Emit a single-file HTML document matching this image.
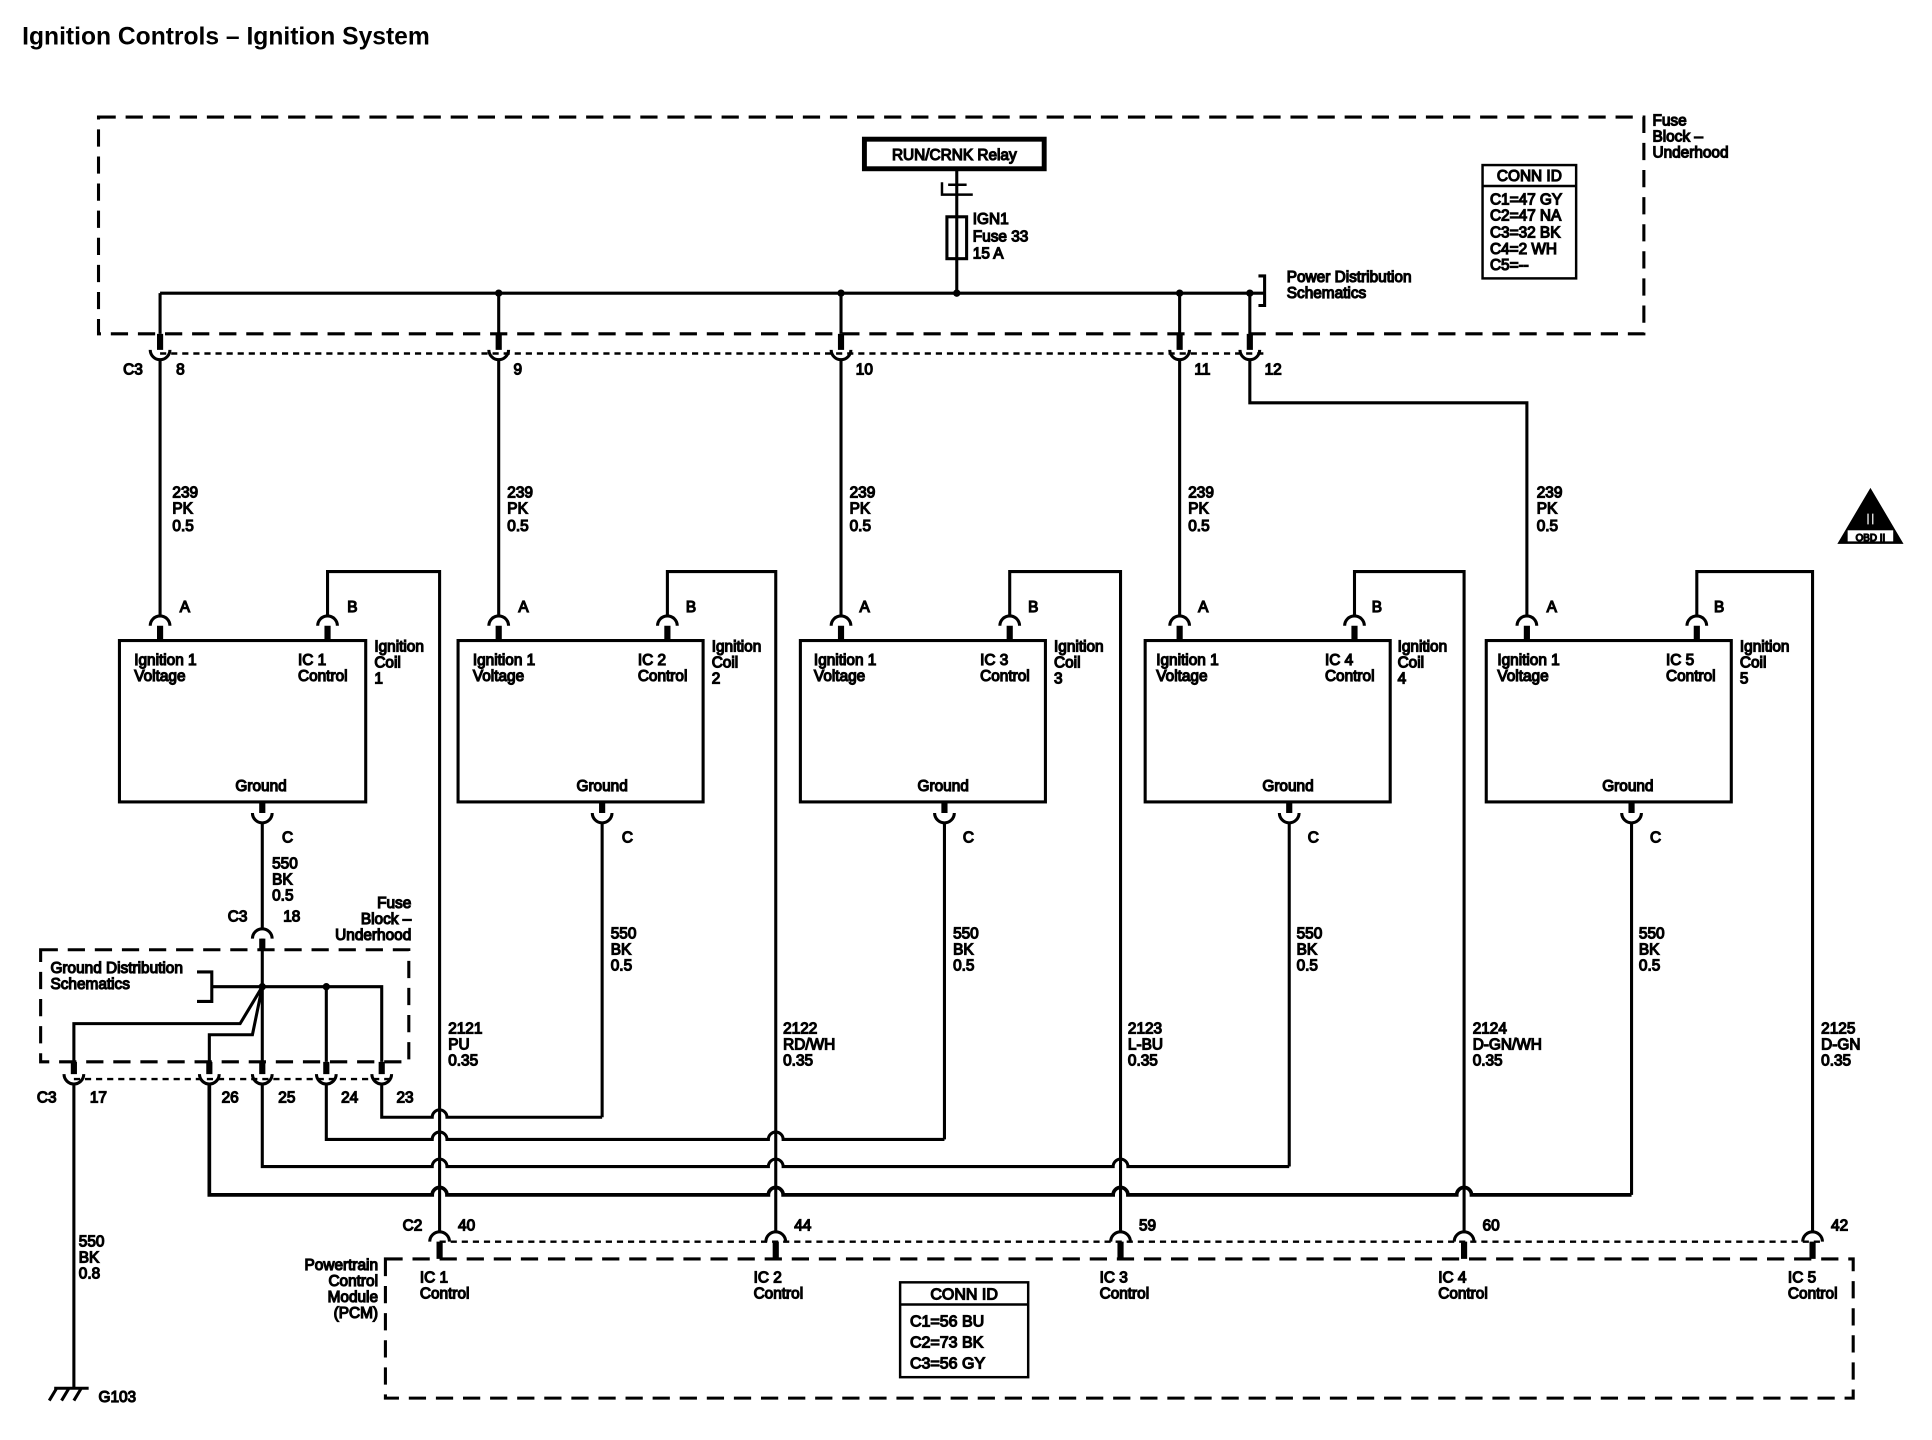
<!DOCTYPE html>
<html><head><meta charset="utf-8"><style>
html,body{margin:0;padding:0;background:#fff;}
svg{display:block;}
text{font-family:"Liberation Sans",sans-serif;font-size:12.5px;fill:#000;}
.r{text-anchor:end}.m{text-anchor:middle}
</style></head><body>
<svg width="1932" height="1440" viewBox="0 0 1569 1169" preserveAspectRatio="none" xmlns="http://www.w3.org/2000/svg">
<text x="18" y="36" style="font-size:20px;font-weight:bold">Ignition Controls – Ignition System</text>
<g fill="none" stroke="#000">
<rect x="80" y="95" width="1255" height="176" stroke-width="2.5" stroke-dasharray="14 8"/>
<rect x="33" y="771" width="299" height="91" stroke-width="2.5" stroke-dasharray="14 8"/>
<rect x="313" y="1022" width="1192" height="113" stroke-width="2.5" stroke-dasharray="14 8"/>
<line x1="130" y1="287" x2="1030" y2="287" stroke-width="2" stroke-dasharray="5 4"/>
<line x1="60" y1="876" x2="320" y2="876" stroke-width="2" stroke-dasharray="5 4"/>
<line x1="357" y1="1008" x2="1480" y2="1008" stroke-width="2" stroke-dasharray="5 4"/>
<rect x="702" y="113" width="146" height="24" stroke-width="4"/>
<line x1="777" y1="138" x2="777" y2="238" stroke-width="2.5"/>
<path d="M765 148 V158 H790 M770 150 H785" stroke-width="2"/>
<rect x="769" y="176" width="16" height="34" stroke-width="2.5"/>
<path d="M130 238 H1015 M1015 238 H1027 M1022 224 H1027 V248 H1022" stroke-width="2.5"/>
<g stroke-width="2.5">
<path d="M130 238 V271 M405 238 V271 M683 238 V271 M958 238 V271 M1015 238 V271"/>
</g>
<g stroke-width="5"><path d="M130 271 V284 M405 271 V284 M683 271 V284 M958 271 V284 M1015 271 V284"/></g>
<g stroke-width="2.5">
<path d="M122 284 A8 8 0 0 0 138 284 M397 284 A8 8 0 0 0 413 284 M675 284 A8 8 0 0 0 691 284 M950 284 A8 8 0 0 0 966 284 M1007 284 A8 8 0 0 0 1023 284"/>
<path d="M130 292 V500 M405 292 V500 M683 292 V500 M958 292 V500 M1015 292 V327 H1240 V500"/>
<path d="M266 500 V464 H357 V1000 M542 500 V464 H630 V1000 M820 500 V464 H910 V1000 M1100 500 V464 H1189 V1000 M1378 500 V464 H1472 V1000"/>
<rect x="97" y="520" width="200" height="131"/>
<rect x="372" y="520" width="199" height="131"/>
<rect x="650" y="520" width="199" height="131"/>
<rect x="930" y="520" width="199" height="131"/>
<rect x="1207" y="520" width="199" height="131"/>
<path d="M122 508 A8 8 0 0 1 138 508 M258 508 A8 8 0 0 1 274 508 M397 508 A8 8 0 0 1 413 508 M534 508 A8 8 0 0 1 550 508 M675 508 A8 8 0 0 1 691 508 M812 508 A8 8 0 0 1 828 508 M950 508 A8 8 0 0 1 966 508 M1092 508 A8 8 0 0 1 1108 508 M1232 508 A8 8 0 0 1 1248 508 M1370 508 A8 8 0 0 1 1386 508"/>
<path d="M205 660 A8 8 0 0 0 221 660 M481 660 A8 8 0 0 0 497 660 M759 660 A8 8 0 0 0 775 660 M1039 660 A8 8 0 0 0 1055 660 M1317 660 A8 8 0 0 0 1333 660"/>
<path d="M213 668 V754 M489 668 V907 M767 668 V925 M1047 668 V947 M1325 668 V970"/>
<path d="M205 762 A8 8 0 0 1 221 762"/>
<path d="M160 789 H172 V813 H160 M172 801 H310 V862 M265 801 V862 M213 762 V862 M213 801 L195 831 H60 V862 M213 801 L205 840 H170 V862"/>
<path d="M52 872 A8 8 0 0 0 68 872 M162 872 A8 8 0 0 0 178 872 M205 872 A8 8 0 0 0 221 872 M257 872 A8 8 0 0 0 273 872 M302 872 A8 8 0 0 0 318 872"/>
<path d="M60 880 V1127"/>
<path d="M310 880 V907 H351 A6 6 0 0 1 363 907 H489"/>
<path d="M265 880 V925 H351 A6 6 0 0 1 363 925 H624 A6 6 0 0 1 636 925 H767"/>
<path d="M213 880 V947 H351 A6 6 0 0 1 363 947 H624 A6 6 0 0 1 636 947 H904 A6 6 0 0 1 916 947 H1047"/>
<path d="M170 880 V970 H351 A6 6 0 0 1 363 970 H624 A6 6 0 0 1 636 970 H904 A6 6 0 0 1 916 970 H1183 A6 6 0 0 1 1195 970 H1325" stroke-width="3"/>
<path d="M349 1008 A8 8 0 0 1 365 1008 M622 1008 A8 8 0 0 1 638 1008 M902 1008 A8 8 0 0 1 918 1008 M1181 1008 A8 8 0 0 1 1197 1008 M1464 1008 A8 8 0 0 1 1480 1008"/>
<path d="M44 1127 H72 M46 1127 L40 1137 M56 1127 L50 1137 M66 1127 L60 1137"/>
<rect x="1204" y="134" width="76" height="92" stroke-width="2"/>
<line x1="1204" y1="151" x2="1280" y2="151" stroke-width="2"/>
<rect x="731" y="1041" width="104" height="77" stroke-width="2"/>
<line x1="731" y1="1059" x2="835" y2="1059" stroke-width="2"/>
</g>
<g stroke="#000" stroke-width="5" fill="none">
<path d="M130 508 V520 M266 508 V520 M405 508 V520 M542 508 V520 M683 508 V520 M820 508 V520 M958 508 V520 M1100 508 V520 M1240 508 V520 M1378 508 V520"/>
<path d="M213 651 V660 M489 651 V660 M767 651 V660 M1047 651 V660 M1325 651 V660"/>
<path d="M213 762 V771 M60 862 V872 M170 862 V872 M213 862 V872 M265 862 V872 M310 862 V872"/>
<path d="M357 1008 V1022 M630 1008 V1022 M910 1008 V1022 M1189 1008 V1022 M1472 1008 V1022"/>
</g>
<g fill="#000">
<circle cx="405" cy="238" r="2.5"/><circle cx="683" cy="238" r="2.5"/><circle cx="777" cy="238" r="2.5"/><circle cx="958" cy="238" r="2.5"/><circle cx="1015" cy="238" r="2.5"/>
<circle cx="213" cy="801" r="2.5"/><circle cx="265" cy="801" r="2.5"/>
<polygon points="1519,397 1545,441 1493,441"/>
</g>
<rect x="1500" y="430" width="38" height="10" fill="#fff" stroke="#000" stroke-width="1"/>
<text x="1519" y="426" class="m" style="font-size:14px;font-weight:bold;fill:#fff">II</text>
<text x="1519" y="439" class="m" style="font-size:8px">OBD II</text>

<text x="775" y="130" class="m">RUN/CRNK Relay</text>
<text x="790" y="182">IGN1</text><text x="790" y="196">Fuse 33</text><text x="790" y="210">15 A</text>
<text x="1342" y="102">Fuse</text><text x="1342" y="115">Block –</text><text x="1342" y="128">Underhood</text>
<text x="1045" y="229">Power Distribution</text><text x="1045" y="242">Schematics</text>
<text x="1242" y="147" class="m">CONN ID</text>
<text x="1210" y="166">C1=47 GY</text><text x="1210" y="179">C2=47 NA</text><text x="1210" y="193">C3=32 BK</text><text x="1210" y="206">C4=2 WH</text><text x="1210" y="219">C5=--</text>

<text x="100" y="304">C3</text><text x="143" y="304">8</text><text x="417" y="304">9</text><text x="695" y="304">10</text><text x="970" y="304">11</text><text x="1027" y="304">12</text>

<text x="140" y="404">239</text><text x="140" y="417">PK</text><text x="140" y="431">0.5</text>
<text x="412" y="404">239</text><text x="412" y="417">PK</text><text x="412" y="431">0.5</text>
<text x="690" y="404">239</text><text x="690" y="417">PK</text><text x="690" y="431">0.5</text>
<text x="965" y="404">239</text><text x="965" y="417">PK</text><text x="965" y="431">0.5</text>
<text x="1248" y="404">239</text><text x="1248" y="417">PK</text><text x="1248" y="431">0.5</text>

<text x="146" y="497">A</text><text x="282" y="497">B</text>
<text x="421" y="497">A</text><text x="557" y="497">B</text>
<text x="698" y="497">A</text><text x="835" y="497">B</text>
<text x="973" y="497">A</text><text x="1114" y="497">B</text>
<text x="1256" y="497">A</text><text x="1392" y="497">B</text>

<text x="109" y="540">Ignition 1</text><text x="109" y="553">Voltage</text><text x="242" y="540">IC 1</text><text x="242" y="553">Control</text><text x="304" y="529">Ignition</text><text x="304" y="542">Coil</text><text x="304" y="555">1</text><text x="212" y="642" class="m">Ground</text>
<text x="384" y="540">Ignition 1</text><text x="384" y="553">Voltage</text><text x="518" y="540">IC 2</text><text x="518" y="553">Control</text><text x="578" y="529">Ignition</text><text x="578" y="542">Coil</text><text x="578" y="555">2</text><text x="489" y="642" class="m">Ground</text>
<text x="661" y="540">Ignition 1</text><text x="661" y="553">Voltage</text><text x="796" y="540">IC 3</text><text x="796" y="553">Control</text><text x="856" y="529">Ignition</text><text x="856" y="542">Coil</text><text x="856" y="555">3</text><text x="766" y="642" class="m">Ground</text>
<text x="939" y="540">Ignition 1</text><text x="939" y="553">Voltage</text><text x="1076" y="540">IC 4</text><text x="1076" y="553">Control</text><text x="1135" y="529">Ignition</text><text x="1135" y="542">Coil</text><text x="1135" y="555">4</text><text x="1046" y="642" class="m">Ground</text>
<text x="1216" y="540">Ignition 1</text><text x="1216" y="553">Voltage</text><text x="1353" y="540">IC 5</text><text x="1353" y="553">Control</text><text x="1413" y="529">Ignition</text><text x="1413" y="542">Coil</text><text x="1413" y="555">5</text><text x="1322" y="642" class="m">Ground</text>

<text x="229" y="684">C</text><text x="505" y="684">C</text><text x="782" y="684">C</text><text x="1062" y="684">C</text><text x="1340" y="684">C</text>
<text x="221" y="705">550</text><text x="221" y="718">BK</text><text x="221" y="731">0.5</text>
<text x="185" y="748">C3</text><text x="230" y="748">18</text>
<text x="334" y="737" class="r">Fuse</text><text x="334" y="750" class="r">Block –</text><text x="334" y="763" class="r">Underhood</text>
<text x="41" y="790">Ground Distribution</text><text x="41" y="803">Schematics</text>
<text x="496" y="762">550</text><text x="496" y="775">BK</text><text x="496" y="788">0.5</text>
<text x="774" y="762">550</text><text x="774" y="775">BK</text><text x="774" y="788">0.5</text>
<text x="1053" y="762">550</text><text x="1053" y="775">BK</text><text x="1053" y="788">0.5</text>
<text x="1331" y="762">550</text><text x="1331" y="775">BK</text><text x="1331" y="788">0.5</text>

<text x="364" y="839">2121</text><text x="364" y="852">PU</text><text x="364" y="865">0.35</text>
<text x="636" y="839">2122</text><text x="636" y="852">RD/WH</text><text x="636" y="865">0.35</text>
<text x="916" y="839">2123</text><text x="916" y="852">L-BU</text><text x="916" y="865">0.35</text>
<text x="1196" y="839">2124</text><text x="1196" y="852">D-GN/WH</text><text x="1196" y="865">0.35</text>
<text x="1479" y="839">2125</text><text x="1479" y="852">D-GN</text><text x="1479" y="865">0.35</text>

<text x="30" y="895">C3</text><text x="73" y="895">17</text><text x="180" y="895">26</text><text x="226" y="895">25</text><text x="277" y="895">24</text><text x="322" y="895">23</text>
<text x="64" y="1012">550</text><text x="64" y="1025">BK</text><text x="64" y="1038">0.8</text>
<text x="80" y="1138">G103</text>

<text x="327" y="999">C2</text><text x="372" y="999">40</text><text x="645" y="999">44</text><text x="925" y="999">59</text><text x="1204" y="999">60</text><text x="1487" y="999">42</text>
<text x="307" y="1031" class="r">Powertrain</text><text x="307" y="1044" class="r">Control</text><text x="307" y="1057" class="r">Module</text><text x="307" y="1070" class="r">(PCM)</text>
<text x="341" y="1041">IC 1</text><text x="341" y="1054">Control</text>
<text x="612" y="1041">IC 2</text><text x="612" y="1054">Control</text>
<text x="893" y="1041">IC 3</text><text x="893" y="1054">Control</text>
<text x="1168" y="1041">IC 4</text><text x="1168" y="1054">Control</text>
<text x="1452" y="1041">IC 5</text><text x="1452" y="1054">Control</text>
<text x="783" y="1055" class="m" style="font-size:13px">CONN ID</text>
<text x="739" y="1077" style="font-size:13px">C1=56 BU</text><text x="739" y="1094" style="font-size:13px">C2=73 BK</text><text x="739" y="1111" style="font-size:13px">C3=56 GY</text>
</svg>
</body></html>
